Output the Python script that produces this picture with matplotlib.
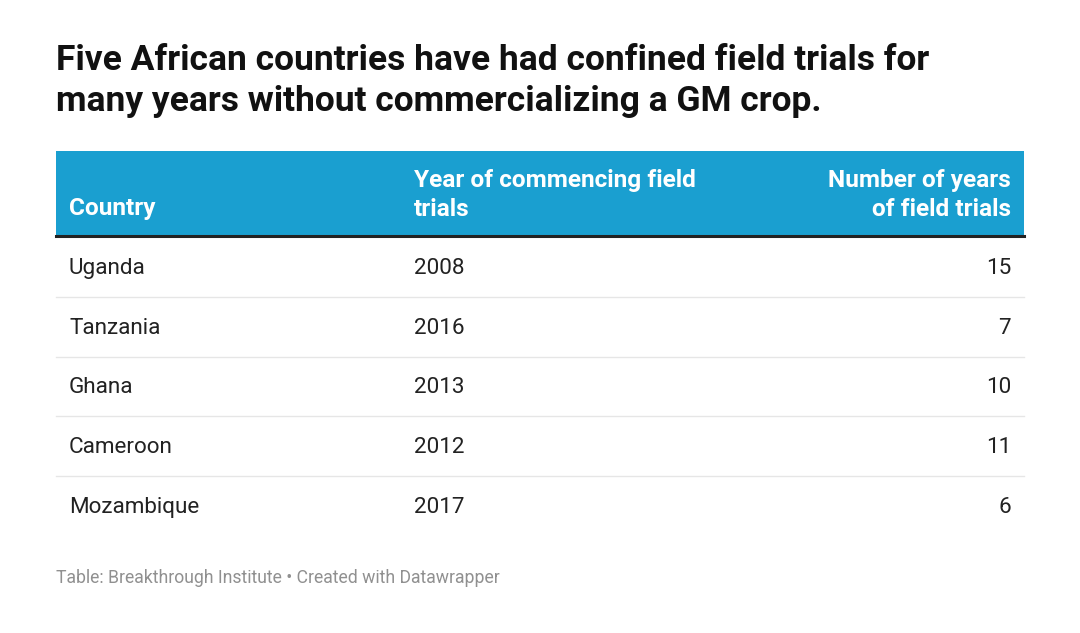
import matplotlib.pyplot as plt
from matplotlib.patches import Rectangle

countries = ['Uganda', 'Tanzania', 'Ghana', 'Cameroon', 'Mozambique']
start_years = ['2008', '2016', '2013', '2012', '2017']
num_years = ['15', '7', '10', '11', '6']

W, H = 1080, 633
fig = plt.figure(figsize=(W / 100, H / 100), dpi=100)
ax = fig.add_axes([0, 0, 1, 1])
ax.set_xlim(0, W)
ax.set_ylim(H, 0)
ax.axis('off')

font = 'Roboto'

# titulo
ax.text(56, 60, 'Five African countries have had confined field trials for',
        fontsize=25.5, fontweight='bold', family=font, va='center', color='#111111')
ax.text(56, 102, 'many years without commercializing a GM crop.',
        fontsize=25.5, fontweight='bold', family=font, va='center', color='#111111')

# cabecalho
ax.add_patch(Rectangle((56, 151), 968, 85, color='#1a9fd0', lw=0))
ax.plot([56, 1024], [236, 236], color='#222222', lw=2.2)
hdr = dict(fontsize=17.6, fontweight='bold', family=font, color='white', va='center')
ax.text(69, 209, 'Country', **hdr)
ax.text(414, 180, 'Year of commencing field', **hdr)
ax.text(414, 209, 'trials', **hdr)
ax.text(1011, 180, 'Number of years', ha='right', **hdr)
ax.text(1011, 209, 'of field trials', ha='right', **hdr)

# linhas
row_h = 59.7
for i, (c, y, n) in enumerate(zip(countries, start_years, num_years)):
    yc = 268.5 + i * row_h
    cell = dict(fontsize=16.2, family=font, color='#222222', va='center')
    ax.text(69, yc, c, **cell)
    ax.text(414, yc, y, **cell)
    ax.text(1011, yc, n, ha='right', **cell)
    if i < len(countries) - 1:
        ax.plot([56, 1024], [267 + i * row_h + row_h / 2] * 2, color='#e6e6e6', lw=1)

ax.text(56, 578, 'Table: Breakthrough Institute • Created with Datawrapper',
        fontsize=12.7, family=font, color='#909090', va='center')

fig.savefig('out.png', dpi=100, facecolor='white')
